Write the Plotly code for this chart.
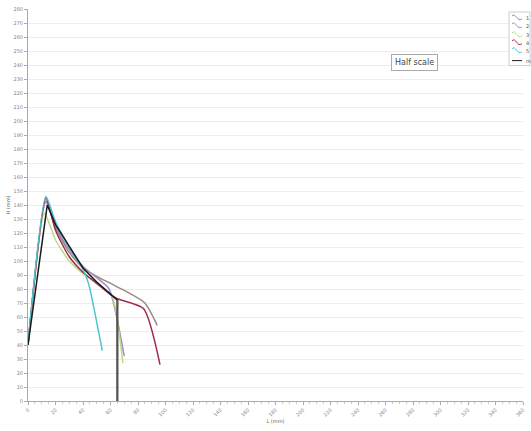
import plotly.graph_objects as go

# Specimen profiles: length L (mm) vs height H (mm)
s1_L = [0, 13, 20, 30, 40, 50, 60, 70, 85, 94]
s1_H = [40, 143, 124, 106, 95, 89, 84, 79, 70, 54]

s2_L = [0, 13, 20, 30, 40, 50, 59, 70]
s2_H = [40, 142, 125, 108, 96, 88, 80, 32]

s3_L = [0, 12, 20, 30, 40, 50, 61, 69]
s3_H = [40, 134, 115, 100, 91, 84, 75, 27]

s4_L = [0, 13, 20, 30, 40, 50, 60, 65, 84, 96]
s4_H = [40, 145, 122, 103, 92, 84, 76, 73, 66, 26]

s5_L = [0, 13, 20, 30, 40, 44, 54]
s5_H = [40, 146, 128, 110, 94, 84, 36]

m_L = [0, 14, 20, 30, 40, 50, 60, 65, 65]
m_H = [40, 140, 126, 110, 95, 85, 76, 72, 0]

series = [
    ("1", s1_L, s1_H, "#9c8a80", "spline"),
    ("2", s2_L, s2_H, "#9d8fc6", "spline"),
    ("3", s3_L, s3_H, "#b9da86", "spline"),
    ("4", s4_L, s4_H, "#9e2b4c", "spline"),
    ("5", s5_L, s5_H, "#4cc4cf", "spline"),
    ("m", m_L, m_H, "#1a1a1a", "linear"),
]

W, H = 531, 431
ML, MR, MT, MB = 28, 8, 6, 30
PW, PH = W - ML - MR, H - MT - MB


def px_x(px):
    return (px - ML) / PW


def px_y(py):
    return (H - MB - py) / PH


fig = go.Figure()
for name, xs, ys, color, shape in series:
    fig.add_trace(go.Scatter(
        x=xs, y=ys, name=name, mode="lines", showlegend=False,
        line=dict(color=color, width=1.5, shape=shape, smoothing=0.6),
    ))

# vertical drop of the mean curve in a darker grey
fig.add_trace(go.Scatter(
    x=m_L[-2:], y=m_H[-2:], mode="lines", showlegend=False,
    line=dict(color="#555555", width=2),
))

fig.add_annotation(
    x=281, y=242, xref="x", yref="y", text="Half scale", showarrow=False,
    font=dict(family="DejaVu Sans", size=8, color="#444"),
    bordercolor="#aaaaaa", borderwidth=1, borderpad=3, bgcolor="white",
)

# compact legend box in the top-right corner
shapes = [dict(
    type="rect", xref="paper", yref="paper",
    x0=px_x(509), x1=px_x(530), y0=px_y(63), y1=px_y(9),
    line=dict(color="#cccccc", width=1), fillcolor="white", layer="above",
)]
annotations = []
row_y = [15, 23, 32, 40, 48, 58]
for (name, _, _, color, shape), yy in zip(series, row_y):
    x0, x1 = 512, 522
    if shape == "spline":
        path = "M {:.4f},{:.4f} C {:.4f},{:.4f} {:.4f},{:.4f} {:.4f},{:.4f}".format(
            px_x(x0), px_y(yy - 2),
            px_x(x0 + 4), px_y(yy - 6),
            px_x(x0 + 5), px_y(yy + 5),
            px_x(x1), px_y(yy + 1),
        )
        shapes.append(dict(type="path", xref="paper", yref="paper", path=path,
                           line=dict(color=color, width=1), layer="above"))
    else:
        shapes.append(dict(type="line", xref="paper", yref="paper",
                           x0=px_x(x0), x1=px_x(x1), y0=px_y(yy), y1=px_y(yy),
                           line=dict(color=color, width=1), layer="above"))
    annotations.append(dict(
        x=px_x(523.5), y=px_y(yy), xref="paper", yref="paper", text=name,
        showarrow=False, xanchor="left", yanchor="middle",
        font=dict(family="DejaVu Sans", size=5, color="#555"),
    ))

tick_font = dict(family="DejaVu Sans", size=5, color="#888")

fig.update_layout(
    width=W, height=H,
    margin=dict(l=ML, r=MR, t=MT, b=MB),
    paper_bgcolor="white", plot_bgcolor="white",
    showlegend=False,
    shapes=shapes,
    xaxis=dict(
        range=[0, 360], dtick=20, tick0=0, showgrid=False, zeroline=False,
        showline=True, linecolor="#aaa", linewidth=1,
        ticks="outside", ticklen=3, tickcolor="#aaa",
        tickangle=-45, tickfont=tick_font,
        minor=dict(dtick=5, ticks="outside", ticklen=2, tickcolor="#ccc"),
        title=dict(text="L (mm)", font=dict(family="DejaVu Sans", size=5, color="#666"), standoff=2),
    ),
    yaxis=dict(
        range=[0, 280], dtick=10, tick0=0, showgrid=True,
        gridcolor="#ececec", gridwidth=1, zeroline=False,
        showline=True, linecolor="#aaa", linewidth=1,
        ticks="outside", ticklen=3, tickcolor="#aaa",
        tickfont=tick_font,
        title=dict(text="H (mm)", font=dict(family="DejaVu Sans", size=5, color="#666"), standoff=2),
    ),
)
for a in annotations:
    fig.add_annotation(**a)

fig.write_html("out.html")
